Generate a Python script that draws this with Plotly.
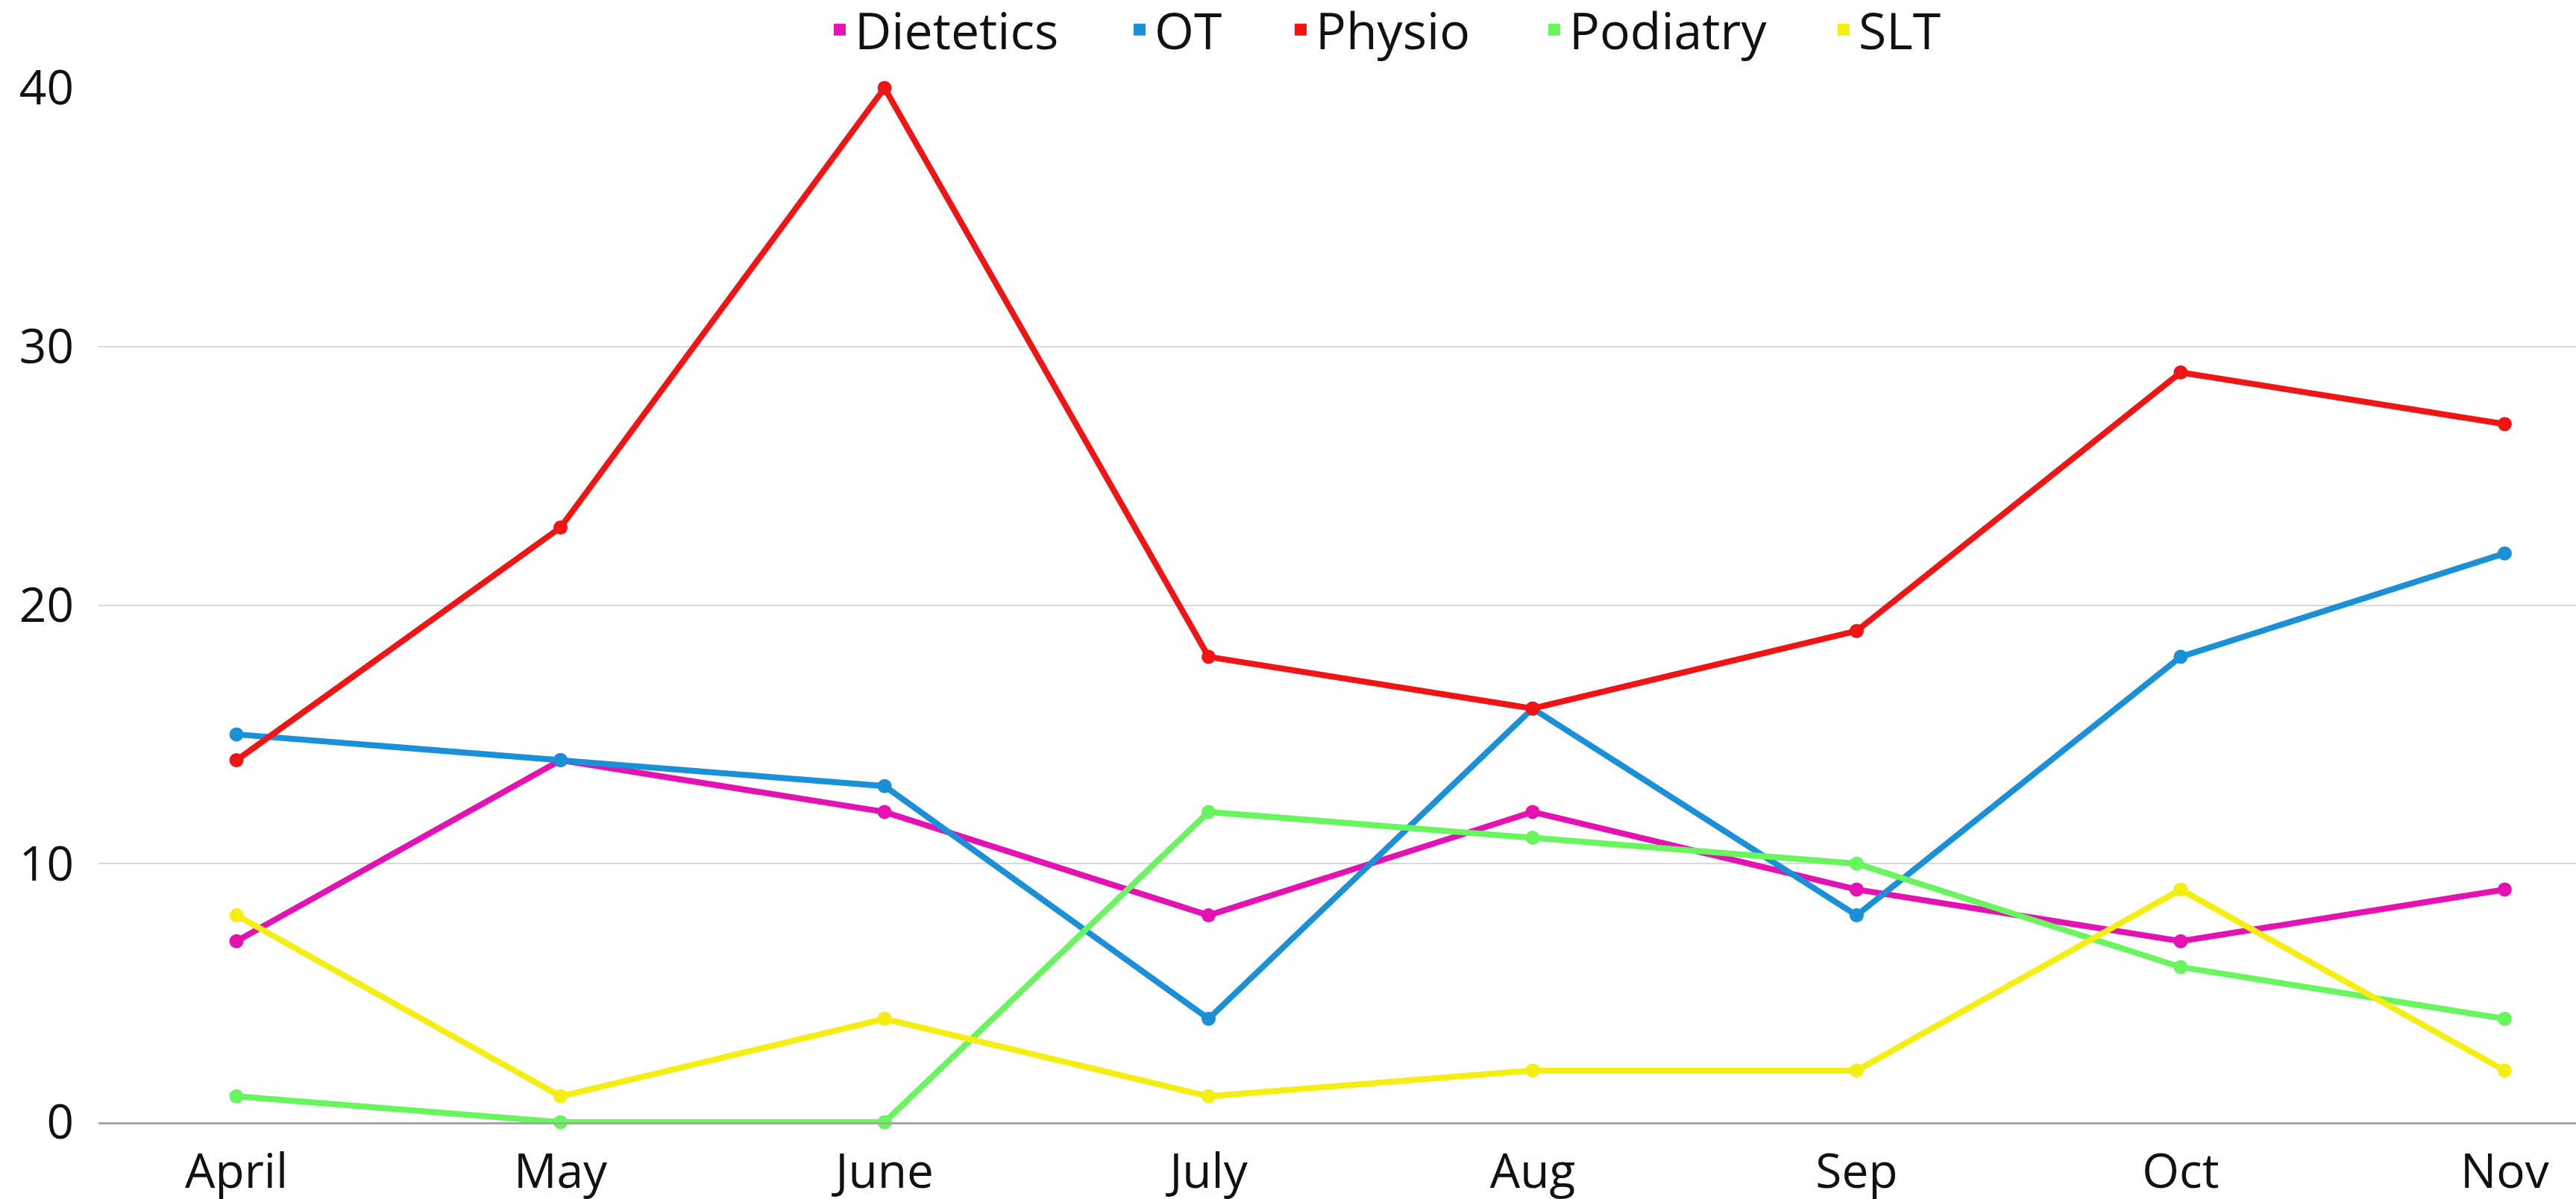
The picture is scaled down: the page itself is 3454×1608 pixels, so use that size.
import plotly.graph_objects as go

months = ["April", "May", "June", "July", "Aug", "Sep", "Oct", "Nov"]
dietetics = [7, 14, 12, 8, 12, 9, 7, 9]
ot = [15, 14, 13, 4, 16, 8, 18, 22]
physio = [14, 23, 40, 18, 16, 19, 29, 27]
podiatry = [1, 0, 0, 12, 11, 10, 6, 4]
slt = [8, 1, 4, 1, 2, 2, 9, 2]
y_ticks = [0, 10, 20, 30, 40]

series = [
    ("Dietetics", dietetics, "#E412B2"),
    ("OT", ot, "#1A90D8"),
    ("Physio", physio, "#F01414"),
    ("Podiatry", podiatry, "#68F55E"),
    ("SLT", slt, "#F5EE12"),
]
# legend entry left positions (fraction of page width)
legend_x = [1106 / 3454, 1508 / 3454, 1724 / 3454, 2064 / 3454, 2452 / 3454]

W, H = 3454, 1608
fig = go.Figure()
for name, vals, col in series:
    fig.add_trace(go.Scatter(
        x=months, y=vals, mode="lines+markers", name=name,
        line=dict(color=col, width=8),
        marker=dict(color=col, size=19),
        cliponaxis=False, showlegend=False,
    ))

font = "Open Sans, Lato, sans-serif"
legends = {}
for i, (name, vals, col) in enumerate(series):
    key = "legend" if i == 0 else f"legend{i + 1}"
    fig.add_trace(go.Scatter(
        x=[None], y=[None], mode="markers", name=name,
        marker=dict(color=col, size=24, symbol="square"),
        showlegend=True, legend=key,
    ))
    legends[key] = dict(
        orientation="h", x=legend_x[i], xanchor="left", xref="container",
        y=1 - 40 / H, yanchor="middle", yref="container",
        font=dict(size=68, family=font, color="#111111"),
        bgcolor="rgba(0,0,0,0)", borderwidth=0, itemwidth=30,
    )

fig.update_layout(
    width=W, height=H,
    margin=dict(l=132, r=0, t=118, b=103, autoexpand=False),
    paper_bgcolor="white", plot_bgcolor="white",
    font=dict(family=font, size=64, color="#111111"),
    xaxis=dict(
        type="category", range=[-0.426, 7.22],
        showgrid=False, showline=True, linecolor="#A6A6A6", linewidth=3,
        ticks="", tickfont=dict(size=64), ticklabelstandoff=8,
    ),
    yaxis=dict(
        range=[0, 40], tickvals=y_ticks,
        showgrid=True, gridcolor="#D9D9D9", gridwidth=2,
        zeroline=False, showline=False, ticks="",
        tickfont=dict(size=64), ticklabelstandoff=32,
    ),
    **legends,
)

fig.write_html(
    "out.html",
    config={"displayModeBar": False},
    post_script="document.body.style.margin='0';document.body.style.overflow='hidden';",
)
